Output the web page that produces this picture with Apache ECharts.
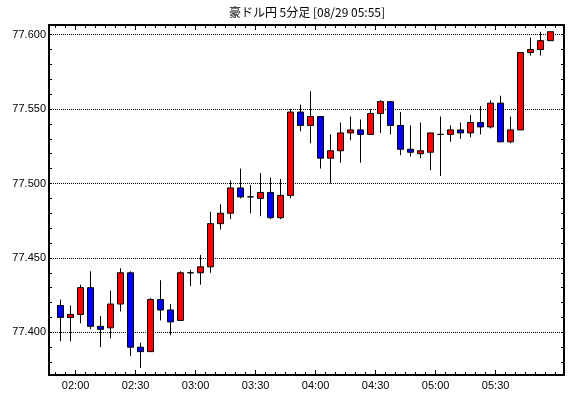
<!DOCTYPE html>
<html>
<head>
<meta charset="utf-8">
<script src="https://cdn.jsdelivr.net/npm/echarts@6/dist/echarts.min.js"></script>
<style>
  html, body { margin: 0; padding: 0; background: #fff; }
  #chart { width: 570px; height: 398px; }
</style>
</head>
<body>
<div id="chart"></div>
<script>
var chartTitle = '豪ドル円 5分足 [08/29 05:55]';

// 5分足の開始時刻
var times = ['01:50','01:55','02:00','02:05','02:10','02:15','02:20','02:25','02:30','02:35',
             '02:40','02:45','02:50','02:55','03:00','03:05','03:10','03:15','03:20','03:25',
             '03:30','03:35','03:40','03:45','03:50','03:55','04:00','04:05','04:10','04:15',
             '04:20','04:25','04:30','04:35','04:40','04:45','04:50','04:55','05:00','05:05',
             '05:10','05:15','05:20','05:25','05:30','05:35','05:40','05:45','05:50','05:55'];
var opens  = [77.418,77.410,77.412,77.430,77.404,77.403,77.419,77.440,77.390,77.387,
              77.422,77.415,77.408,77.440,77.440,77.444,77.473,77.480,77.497,77.491,
              77.490,77.494,77.477,77.492,77.548,77.539,77.545,77.517,77.522,77.534,
              77.536,77.533,77.547,77.555,77.539,77.523,77.520,77.521,77.533,77.533,
              77.536,77.534,77.541,77.538,77.554,77.528,77.536,77.588,77.590,77.596];
var closes = [77.410,77.412,77.430,77.404,77.402,77.419,77.440,77.390,77.387,77.422,
              77.415,77.407,77.440,77.440,77.444,77.473,77.480,77.497,77.491,77.491,
              77.494,77.477,77.492,77.548,77.539,77.545,77.517,77.522,77.534,77.536,
              77.533,77.547,77.555,77.539,77.523,77.521,77.522,77.534,77.533,77.536,
              77.534,77.541,77.538,77.554,77.528,77.536,77.588,77.590,77.596,77.602];
var lows   = [77.394,77.394,77.406,77.402,77.390,77.396,77.414,77.384,77.376,77.387,
              77.408,77.398,77.408,77.431,77.432,77.440,77.469,77.476,77.490,77.480,
              77.478,77.476,77.476,77.490,77.535,77.527,77.510,77.500,77.514,77.529,
              77.514,77.533,77.534,77.533,77.519,77.518,77.517,77.509,77.505,77.528,
              77.530,77.531,77.533,77.537,77.528,77.527,77.536,77.586,77.586,77.596];
var highs  = [77.422,77.418,77.432,77.441,77.411,77.428,77.443,77.441,77.393,77.423,
              77.435,77.419,77.441,77.442,77.452,77.481,77.486,77.502,77.510,77.499,
              77.507,77.504,77.503,77.550,77.553,77.562,77.545,77.533,77.541,77.545,
              77.543,77.550,77.556,77.555,77.548,77.539,77.541,77.534,77.545,77.539,
              77.541,77.546,77.552,77.556,77.559,77.545,77.588,77.598,77.602,77.602];

var xTickLabels = ['02:00','02:30','03:00','03:30','04:00','04:30','05:00','05:30'];
var yTickLabels = ['77.400','77.450','77.500','77.550','77.600'];

function toMin(s) {
  var p = s.split(':');
  return Number(p[0]) * 60 + Number(p[1]);
}

var xMin = 106.7, xMax = 364.2;
var yMin = 77.3713, yMax = 77.6065;

// ローソク足は5分枠の中央に置く
var candles = times.map(function (t, i) {
  return [toMin(t) + 2.5, opens[i], closes[i], lows[i], highs[i]];
});

// 目盛り: 5分ごと / 0.01ごと
var xMajorTicks = xTickLabels.map(toMin);
var xMinorTicks = times.map(toMin);
xMinorTicks.push(toMin(times[times.length - 1]) + 5);
var yMinorTicks = [];
for (var k = 38; k <= 60; k++) yMinorTicks.push(77 + k / 100);

var labelFont = { color: '#000', fontSize: 11, fontFamily: 'Liberation Sans' };

function frameX(pos, ticks, len, lineShow) {
  return {
    type: 'value',
    position: pos,
    min: xMin, max: xMax,
    axisLine: { show: lineShow, lineStyle: { color: '#000', width: 2 } },
    axisTick: { show: true, inside: true, length: len, customValues: ticks, lineStyle: { color: '#000' } },
    axisLabel: { show: false },
    splitLine: { show: false }
  };
}

var myChart = echarts.init(document.getElementById('chart'), null, { renderer: 'canvas' });
var xMain = frameX('bottom', xMinorTicks, 3, true);
xMain.axisLabel = Object.assign({
  show: true,
  margin: 5,
  customValues: xMajorTicks,
  formatter: function (v) {
    var i = xMajorTicks.indexOf(Math.round(v));
    return i >= 0 ? xTickLabels[i] : '';
  }
}, labelFont);

var option = {
  animation: false,
  backgroundColor: '#fff',
  graphic: [{
    type: 'text',
    x: 307,
    y: 12,
    style: {
      text: chartTitle,
      font: '12px "Noto Sans CJK JP"',
      fill: '#000',
      textAlign: 'center',
      textVerticalAlign: 'middle'
    }
  }],
  grid: { left: 49, right: 6, top: 25, bottom: 23 },
  xAxis: [
    xMain,
    frameX('top', xMinorTicks, 3, true),
    // 30分ごとの長い目盛り(上下)
    frameX('bottom', xMajorTicks, 5, false),
    frameX('top', xMajorTicks, 5, false)
  ],
  yAxis: [{
    type: 'value',
    position: 'left',
    min: yMin, max: yMax,
    axisLine: { show: true, lineStyle: { color: '#000', width: 2 } },
    axisTick: { show: true, inside: true, length: 3, customValues: yMinorTicks, lineStyle: { color: '#000' } },
    axisLabel: Object.assign({
      margin: 3,
      customValues: yTickLabels.map(Number),
      formatter: function (v) { return v.toFixed(3); }
    }, labelFont),
    splitLine: { show: false }
  }, {
    type: 'value',
    position: 'right',
    min: yMin, max: yMax,
    axisLine: { show: true, lineStyle: { color: '#000', width: 2 } },
    axisTick: { show: true, inside: true, length: 3, customValues: yMinorTicks, lineStyle: { color: '#000' } },
    axisLabel: { show: false },
    splitLine: { show: false }
  }, {
    // 点線のグリッド用
    type: 'value',
    position: 'right',
    min: yMin, max: yMax,
    axisLine: { show: false },
    axisTick: { show: false, customValues: yTickLabels.map(Number) },
    axisLabel: { show: false },
    splitLine: { show: true, lineStyle: { color: '#000', width: 1, type: 'dotted' } }
  }],
  series: [{
    type: 'candlestick',
    xAxisIndex: 0,
    yAxisIndex: 0,
    barWidth: 6,
    itemStyle: {
      color: '#ff0000',
      color0: '#0000ff',
      borderColor: '#000',
      borderColor0: '#000',
      borderColorDoji: '#000',
      borderWidth: 1
    },
    data: candles
  }]
};
myChart.setOption(option);
</script>
</body>
</html>
